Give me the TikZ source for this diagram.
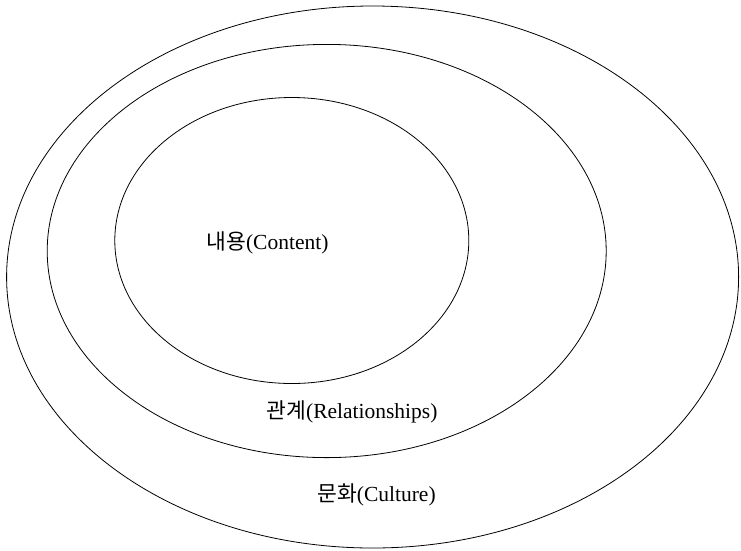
\documentclass[tikz,border=0pt]{standalone}
\usepackage{fontspec}
\setmainfont{Liberation Serif}
\newfontfamily\kr{Noto Sans CJK KR}
\begin{document}
\begin{tikzpicture}[x=1pt,y=-1pt,
  ring/.style={draw=black, line width=0.8pt},
  lbl/.style={font=\fontsize{21.5}{26}\selectfont, inner sep=0pt}]
\useasboundingbox (0,0) rectangle (741,550);
\draw[ring] (372.6,277) ellipse [x radius=366pt, y radius=271pt];
\draw[ring] (326.7,251) ellipse [x radius=279.5pt, y radius=206.6pt];
\draw[ring] (291.8,240.5) ellipse [x radius=177pt, y radius=143pt];
\node[lbl] (content) at (267.5,243) {{\kr 내용}(Content)};
\node[lbl] (rel) at (352,412) {{\kr 관계}(Relationships)};
\node[lbl] (cul) at (376.5,495) {{\kr 문화}(Culture)};
\end{tikzpicture}
\end{document}
